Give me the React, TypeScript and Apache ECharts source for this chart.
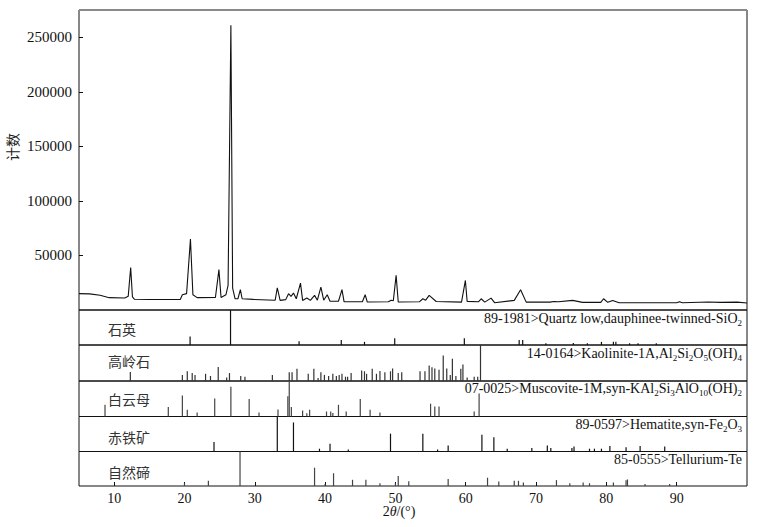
import { useEffect, useRef } from 'react';
import * as echarts from 'echarts';

// ---- measured XRD pattern ----
const twoTheta = [
  5.0, 6.5, 8.0, 9.3, 11.5, 12.0, 12.35, 12.6, 12.9, 15.0, 19.4, 19.7, 20.3, 20.85, 21.2, 21.8,
  24.4, 24.9, 25.2, 25.9, 26.2, 26.6, 26.85, 27.2, 27.6, 27.95, 28.2, 29.8, 32.9, 33.2, 33.6,
  34.4, 34.8, 35.15, 35.5, 35.9, 36.5, 36.8, 37.4, 37.9, 38.5, 38.9, 39.4, 39.8, 40.3, 40.7,
  41.9, 42.4, 42.7, 45.3, 45.7, 46.0, 49.0, 49.4, 49.7, 50.1, 50.4, 53.4, 53.9, 54.3, 54.8,
  55.8, 59.4, 59.95, 60.2, 61.8, 62.2, 62.7, 63.6, 64.1, 66.9, 67.8, 68.6, 72.0, 72.5, 73.2,
  75.2, 76.6, 79.2, 79.6, 80.2, 80.9, 81.8, 90.0, 90.4, 90.8, 94.5, 96.2, 98.6, 100.0,
];
const counts = [
  15000, 14800, 13500, 11300, 11000, 12500, 39000, 12000, 9800, 9600, 9700, 14000, 15000, 65000, 14000, 11300,
  11500, 37000, 11500, 14000, 22500, 261000, 20000, 10300, 10300, 18600, 10300, 9700, 9000, 20400, 8800,
  9500, 14900, 12500, 15500, 10300, 24600, 8800, 11000, 8800, 13400, 9000, 21000, 9000, 14000, 8000,
  8000, 18600, 7500, 7500, 14000, 7300, 7500, 9000, 8500, 31700, 7300, 7500, 10300, 9000, 13400,
  7800, 7200, 27100, 7900, 7500, 10300, 7200, 10900, 6700, 8800, 18600, 7200, 7200, 7800, 7500,
  8800, 7000, 7000, 10300, 7000, 8800, 6700, 6600, 7600, 6600, 7300, 7000, 7200, 6400,
];

const xTicks = [10, 20, 30, 40, 50, 60, 70, 80, 90];
const yTicks = [50000, 100000, 150000, 200000, 250000];

// ---- reference cards (position, relative intensity %) ----
const quartzPos = [20.8, 26.55, 36.3, 42.3, 45.6, 49.9, 59.8, 67.6, 68.1, 71.4, 75.3, 77.3, 79.3, 81.0, 81.35, 83.3, 84.5, 87.1];
const quartzInt = [24, 100, 11, 14, 9, 19, 19, 14, 14, 5, 6, 5, 9, 9, 9, 5, 5, 5];

const kaolinitePos = [
  12.3, 19.7, 20.4, 21.1, 21.5, 23.0, 23.7, 24.8, 26.0, 26.4, 28.0, 28.6, 32.5, 34.9, 35.3, 36.0,
  37.6, 38.4, 39.0, 39.4, 39.9, 40.5, 41.1, 41.6, 42.0, 42.4, 42.9, 43.2, 43.7, 45.2, 45.6, 45.9,
  46.7, 47.3, 47.8, 48.5, 49.3, 49.6, 50.4, 50.9, 53.5, 54.2, 54.8, 55.2, 55.6, 56.2, 56.8, 57.3,
  57.8, 58.1, 58.6, 59.3, 59.6, 60.2, 61.2, 61.7, 62.1,
];
const kaoliniteInt = [
  25, 17, 27, 22, 17, 20, 14, 39, 10, 22, 14, 12, 17, 24, 24, 34,
  20, 34, 8, 24, 17, 14, 20, 14, 17, 20, 12, 12, 22, 29, 27, 20,
  34, 20, 28, 24, 27, 35, 22, 24, 27, 27, 43, 38, 35, 31, 71, 35,
  17, 62, 14, 34, 46, 10, 12, 12, 100,
];

const muscovitePos = [
  8.7, 17.7, 19.7, 20.4, 21.8, 24.3, 26.6, 29.2, 30.6, 33.3, 34.7, 34.9, 35.2, 36.8, 37.4, 37.8,
  40.2, 40.8, 41.1, 41.9, 43.0, 45.0, 46.4, 47.8, 55.0, 55.6, 56.2, 61.2, 61.9,
];
const muscoviteInt = [
  33, 27, 59, 19, 11, 51, 84, 49, 11, 20, 57, 100, 27, 17, 9, 19,
  14, 14, 10, 33, 14, 49, 19, 11, 36, 28, 28, 14, 65,
];

const hematitePos = [
  24.2, 33.2, 35.5, 39.2, 40.7, 43.3, 49.3, 53.9, 56.0, 57.5, 62.3, 64.0, 65.9, 69.4, 71.6, 72.1,
  75.1, 75.4, 77.6, 78.3, 79.3, 80.5, 82.8, 84.8, 88.3,
];
const hematiteInt = [
  27, 100, 83, 8, 22, 6, 51, 51, 6, 17, 48, 41, 8, 10, 17, 10,
  10, 14, 8, 8, 8, 16, 12, 16, 14,
];

const telluriumPos = [
  20.0, 23.4, 27.9, 38.5, 40.0, 41.2, 43.9, 45.8, 47.8, 50.0, 50.4, 51.9, 57.5, 63.1, 64.7, 66.9,
  67.5, 68.2, 72.9, 74.8, 76.7, 77.6, 81.0, 82.8, 83.0, 85.5, 89.0,
];
const telluriumInt = [
  8, 15, 100, 53, 6, 37, 18, 18, 8, 8, 29, 14, 20, 24, 13, 15,
  15, 10, 17, 8, 10, 8, 10, 17, 19, 6, 6,
];

const phaseNamesCn = ['石英', '高岭石', '白云母', '赤铁矿', '自然碲'];
const cardLabels = [
  '{n|89-1981>Quartz low,dauphinee-twinned-SiO}{s|2}',
  '{n|14-0164>Kaolinite-1A,Al}{s|2}{n|Si}{s|2}{n|O}{s|5}{n|(OH)}{s|4}',
  '{n|07-0025>Muscovite-1M,syn-KAl}{s|2}{n|Si}{s|3}{n|AlO}{s|10}{n|(OH)}{s|2}',
  '{n|89-0597>Hematite,syn-Fe}{s|2}{n|O}{s|3}',
  '{n|85-0555>Tellurium-Te}',
];

const SERIF = '"Liberation Serif", "DejaVu Serif", serif';
const CJK = '"Noto Sans CJK SC", sans-serif';

export default function App() {
  const ref = useRef<HTMLDivElement>(null);

  useEffect(() => {
    if (!ref.current) return;
    const chart = echarts.init(ref.current, undefined, { renderer: 'svg' });

    const L = 79;
    const R = 19;
    const panelTops = [310, 345, 381, 416.5, 451.5];
    const panelHeights = [35, 36, 35.5, 35, 34.5];

    const grids: any[] = [
      { left: L, right: R, top: 10, height: 300, show: true, borderColor: '#111', borderWidth: 1, backgroundColor: 'transparent' },
    ];
    panelTops.forEach((t, i) => {
      grids.push({ left: L, right: R, top: t, height: panelHeights[i], show: true, borderColor: '#111', borderWidth: 1, backgroundColor: 'transparent' });
    });

    const xAxes: any[] = grids.map((_, i) => {
      const last = i === grids.length - 1;
      return {
        type: 'value',
        gridIndex: i,
        min: 5,
        max: 100,
        axisLine: { show: false },
        splitLine: { show: false },
        axisTick: {
          show: last,
          inside: true,
          length: 4,
          customValues: xTicks,
          lineStyle: { color: '#111' },
        },
        axisLabel: {
          show: last,
          customValues: xTicks,
          formatter: (v: number) => String(v),
          fontFamily: SERIF,
          fontSize: 14,
          color: '#111',
          margin: 5,
        },
      };
    });

    const yAxes: any[] = [
      {
        type: 'value',
        gridIndex: 0,
        min: 0,
        max: 275000,
        axisLine: { show: false },
        splitLine: { show: false },
        axisTick: { show: true, inside: true, length: 4, customValues: yTicks, lineStyle: { color: '#111' } },
        axisLabel: {
          customValues: yTicks,
          formatter: (v: number) => String(v),
          fontFamily: SERIF,
          fontSize: 15,
          color: '#111',
          margin: 7,
        },
      },
    ];
    for (let i = 1; i <= 5; i++) {
      yAxes.push({ type: 'value', gridIndex: i, min: 0, max: 100, show: false });
    }

    const cards = [
      [quartzPos, quartzInt],
      [kaolinitePos, kaoliniteInt],
      [muscovitePos, muscoviteInt],
      [hematitePos, hematiteInt],
      [telluriumPos, telluriumInt],
    ];
    const stickColors = ['#111', '#333', '#444', '#111', '#444'];

    const series: any[] = [
      {
        type: 'line',
        xAxisIndex: 0,
        yAxisIndex: 0,
        data: twoTheta.map((x, i) => [x, counts[i]]),
        symbol: 'none',
        lineStyle: { color: '#111', width: 1.1 },
        silent: true,
      },
    ];
    cards.forEach(([pos, inten], i) => {
      series.push({
        type: 'custom',
        xAxisIndex: i + 1,
        yAxisIndex: i + 1,
        data: pos.map((p, k) => [p, inten[k]]),
        renderItem: (params: any, api: any) => {
          const x = api.value(0);
          const h = api.value(1);
          const p0 = api.coord([x, 0]);
          const p1 = api.coord([x, h]);
          return {
            type: 'line',
            shape: { x1: p0[0], y1: p0[1], x2: p1[0], y2: p1[1] },
            style: { stroke: stickColors[i], lineWidth: 1.2 },
          };
        },
        silent: true,
      });
    });

    const cnY = [329, 361, 399, 436.5, 471.5];
    const cardY = [318.5, 353.5, 388.5, 424, 459.5];
    const graphics: any[] = [
      { type: 'line', shape: { x1: L, y1: 10, x2: 766 - R, y2: 10 }, style: { stroke: '#8a8a8a', lineWidth: 2 }, z: 100 },
      {
        type: 'text',
        x: 12,
        y: 147,
        rotation: Math.PI / 2,
        style: { text: '计数', font: `14px ${CJK}`, fill: '#222', align: 'center', verticalAlign: 'middle' },
      },
      {
        type: 'text',
        x: 399,
        y: 511.5,
        style: {
          text: '{n|2}{i|θ}{n|/(°)}',
          align: 'center',
          verticalAlign: 'middle',
          rich: {
            n: { fontFamily: SERIF, fontSize: 14, fill: '#111' },
            i: { fontFamily: SERIF, fontSize: 14, fontStyle: 'italic', fill: '#111' },
          },
        },
      },
    ];
    phaseNamesCn.forEach((t, i) => {
      graphics.push({
        type: 'text',
        x: 108,
        y: cnY[i],
        style: { text: t, font: `14px ${CJK}`, fill: '#333', align: 'left', verticalAlign: 'middle' },
      });
    });
    cardLabels.forEach((t, i) => {
      graphics.push({
        type: 'text',
        x: 742,
        y: cardY[i],
        style: {
          text: t,
          align: 'right',
          verticalAlign: 'middle',
          rich: {
            n: { fontFamily: SERIF, fontSize: 14, lineHeight: 18, fill: '#111' },
            s: { fontFamily: SERIF, fontSize: 9, lineHeight: 10, verticalAlign: 'bottom', fill: '#111' },
          },
        },
      });
    });

    chart.setOption({
      animation: false,
      backgroundColor: '#fff',
      grid: grids,
      xAxis: xAxes,
      yAxis: yAxes,
      series,
      graphic: graphics,
    });

    return () => chart.dispose();
  }, []);

  return <div ref={ref} style={{ position: 'fixed', left: 0, top: 0, width: 766, height: 527 }} />;
}
